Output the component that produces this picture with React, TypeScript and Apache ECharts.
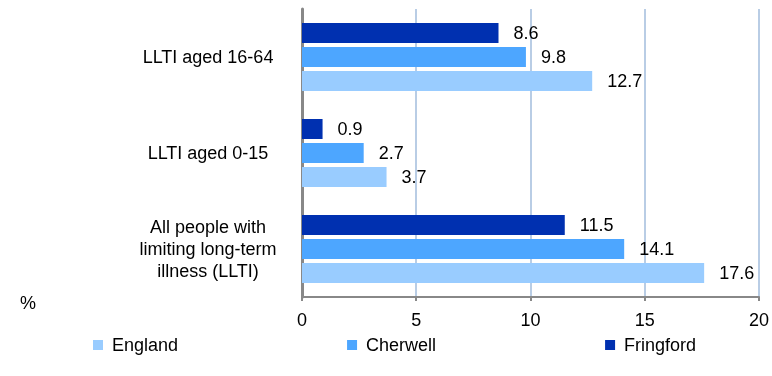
import React, { useEffect, useRef } from "react";
import * as echarts from "echarts";

const categories = [
  "All people with\nlimiting long-term\nillness (LLTI)",
  "LLTI aged 0-15",
  "LLTI aged 16-64",
];
const england = [17.6, 3.7, 12.7];
const cherwell = [14.1, 2.7, 9.8];
const fringford = [11.5, 0.9, 8.6];
const legendOrder = ["England", "Cherwell", "Fringford"];
// drawn order: first series is placed at the top of each group
const seriesNames = ["Fringford", "Cherwell", "England"];
const seriesData = [fringford, cherwell, england];
const colors = ["#0030B0", "#4DA6FF", "#99CCFF"];

const FONT = "'Liberation Sans', Arial, sans-serif";
const FS = 18;

export default function App() {
  const ref = useRef<HTMLDivElement>(null);
  useEffect(() => {
    if (!ref.current) return;
    const chart = echarts.init(ref.current, undefined, { renderer: "svg" });
    chart.setOption({
      animation: false,
      textStyle: { fontFamily: FONT },
      grid: { left: 302, right: 10, top: 9, bottom: 79, containLabel: false },
      legend: {
        data: legendOrder,
        left: 93,
        top: 336,
        padding: 0,
        icon: "rect",
        itemWidth: 10,
        itemHeight: 10,
        itemGap: 169,
        textStyle: {
          fontFamily: FONT,
          fontSize: FS,
          color: "#000",
          padding: [0, 0, 0, 4],
        },
      },
      xAxis: {
        type: "value",
        min: 0,
        max: 20,
        interval: 5,
        axisLine: { show: true, lineStyle: { color: "#888", width: 2 } },
        axisTick: { show: true, length: 4, lineStyle: { color: "#888", width: 2 } },
        axisLabel: { color: "#000", fontSize: FS, fontFamily: FONT, margin: 14 },
        splitLine: { show: true, lineStyle: { color: "#B9CDE5", width: 2 } },
      },
      yAxis: {
        type: "category",
        data: categories,
        axisLine: { show: true, lineStyle: { color: "#888", width: 3 } },
        axisTick: { show: false },
        axisLabel: {
          color: "#000",
          fontSize: FS,
          fontFamily: FONT,
          align: "center",
          margin: 94,
          lineHeight: 22,
        },
      },
      graphic: [
        {
          type: "text",
          left: 20,
          top: 294,
          style: { text: "%", fontSize: FS, fontFamily: FONT, fill: "#000" },
        },
      ],
      series: seriesNames.map((name, i) => ({
        name,
        type: "bar",
        data: seriesData[i],
        barWidth: 20,
        barGap: "20%",
        barCategoryGap: "29%",
        itemStyle: { color: colors[i] },
        label: {
          show: true,
          position: "right",
          distance: 15,
          color: "#000",
          fontSize: FS,
          fontFamily: FONT,
          formatter: (p: any) => p.value.toFixed(1),
        },
      })),
    });
    return () => chart.dispose();
  }, []);
  return (
    <div
      ref={ref}
      style={{ position: "fixed", left: 0, top: 0, width: 772, height: 376 }}
    />
  );
}
